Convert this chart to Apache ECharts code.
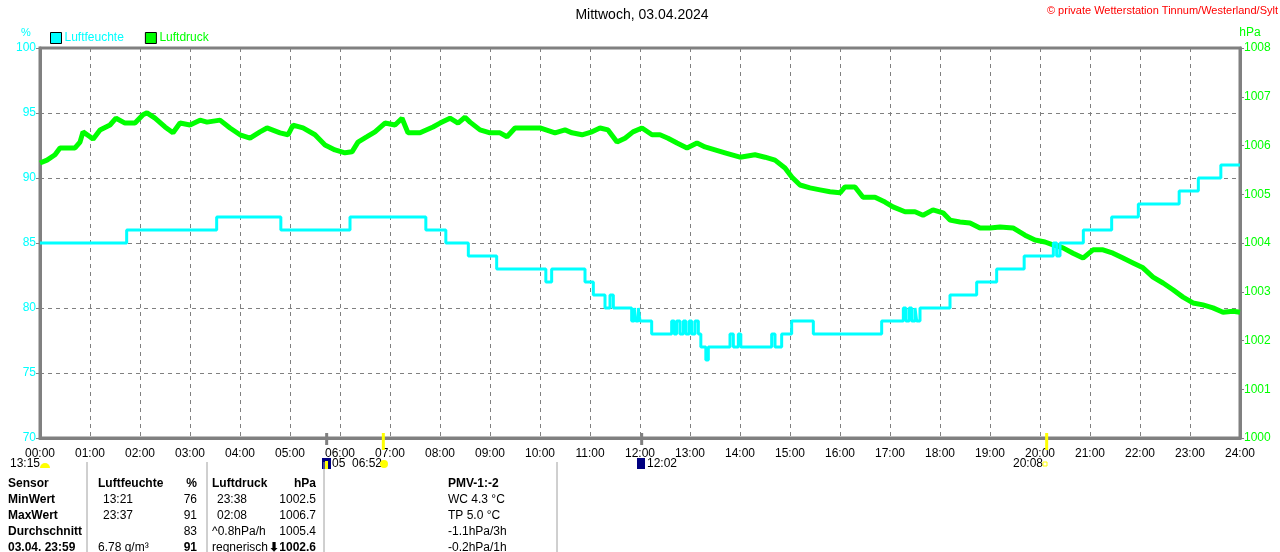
<!DOCTYPE html>
<html>
<head>
<meta charset="utf-8">
<title>Mittwoch, 03.04.2024</title>
<script src="https://cdn.jsdelivr.net/npm/echarts@6/dist/echarts.min.js"></script>
<style>
html, body { margin: 0; padding: 0; background: #fff; }
#main { width: 1280px; height: 552px; }
</style>
</head>
<body>
<div id="main"></div>
<script>
// Luftfeuchte (%): value holds from the given time until the next one
var humTime = ['00:00','01:44','03:32','04:49','06:12','07:43','08:07','08:34','09:08','10:07','10:14','10:54','11:04','11:18','11:24','11:28',
    '11:50','11:53','11:55','11:58','12:00','12:14','12:38','12:41','12:44','12:48','12:52','12:55','12:59','13:02','13:06','13:10','13:13',
    '13:19','13:22','13:48','13:52','13:58','14:01','14:38','14:42','14:50','15:02','15:28','16:50','17:16','17:19','17:23','17:26','17:30',
    '17:32','17:36','18:12','18:44','19:08','19:41','20:16','20:20','20:24','20:52','21:26','21:58','22:47','23:10','23:37','24:00'];
var humValue = [85,86,87,86,87,86,85,84,83,82,83,82,81,80,81,80,
    79,80,79,80,79,78,79,78,79,78,79,78,79,78,79,78,77,
    76,77,78,77,78,77,78,77,78,79,78,79,80,79,80,79,80,
    79,80,81,82,83,84,85,84,85,86,87,88,89,90,91,91];

// Luftdruck (hPa), time in hours
var presTime = [0.00,0.14,0.30,0.40,0.70,0.80,0.86,1.00,1.06,1.20,1.40,1.52,1.70,1.90,2.06,2.14,2.30,2.50,2.66,2.80,
    3.00,3.20,3.34,3.60,3.80,4.00,4.20,4.40,4.54,4.80,4.96,5.06,5.26,5.50,5.70,5.90,6.10,6.24,6.36,6.54,
    6.70,6.90,7.10,7.24,7.36,7.60,7.86,8.00,8.20,8.36,8.50,8.60,8.80,9.00,9.20,9.34,9.50,9.80,10.00,10.30,
    10.50,10.64,10.84,11.04,11.20,11.36,11.54,11.70,11.86,12.04,12.24,12.40,12.56,12.74,12.94,13.14,13.30,13.50,13.70,14.00,
    14.30,14.50,14.70,14.90,15.04,15.20,15.40,15.60,15.80,16.00,16.10,16.30,16.46,16.70,16.90,17.06,17.30,17.50,17.66,17.86,
    18.06,18.20,18.40,18.60,18.80,19.00,19.20,19.46,19.70,19.90,20.10,20.26,20.46,20.66,20.86,21.06,21.26,21.46,21.66,21.86,
    22.06,22.26,22.46,22.66,22.86,23.06,23.26,23.46,23.66,23.86,24.00];
var presValue = [1005.64,1005.70,1005.81,1005.95,1005.95,1006.07,1006.28,1006.18,1006.13,1006.32,1006.42,1006.56,1006.46,1006.46,1006.63,1006.67,1006.56,1006.38,1006.26,1006.46,
    1006.42,1006.52,1006.48,1006.52,1006.36,1006.22,1006.15,1006.28,1006.36,1006.26,1006.22,1006.42,1006.36,1006.22,1006.01,1005.91,1005.85,1005.87,1006.07,1006.18,
    1006.28,1006.46,1006.42,1006.56,1006.26,1006.26,1006.38,1006.46,1006.56,1006.46,1006.58,1006.48,1006.32,1006.26,1006.26,1006.18,1006.36,1006.36,1006.36,1006.26,
    1006.32,1006.26,1006.22,1006.28,1006.36,1006.32,1006.07,1006.15,1006.28,1006.36,1006.22,1006.22,1006.15,1006.05,1005.95,1006.05,1005.97,1005.91,1005.85,1005.76,
    1005.81,1005.76,1005.70,1005.54,1005.35,1005.19,1005.13,1005.09,1005.05,1005.03,1005.15,1005.15,1004.94,1004.94,1004.84,1004.74,1004.64,1004.64,1004.57,1004.68,
    1004.62,1004.47,1004.43,1004.41,1004.31,1004.31,1004.33,1004.31,1004.16,1004.06,1004.02,1003.96,1003.90,1003.79,1003.69,1003.86,1003.86,1003.79,1003.69,1003.59,
    1003.49,1003.30,1003.18,1003.04,1002.89,1002.77,1002.73,1002.67,1002.58,1002.60,1002.58];

// events under the time axis
var eventTime = ['05:44','06:52','12:02','20:08'];
var eventColor = ['#808080','#ffff00','#808080','#ffff00'];

// summary table
var tableRows = [
    ['Sensor','Luftfeuchte','%','Luftdruck','hPa','PMV-1:-2'],
    ['MinWert','13:21','76','23:38','1002.5','WC 4.3 °C'],
    ['MaxWert','23:37','91','02:08','1006.7','TP 5.0 °C'],
    ['Durchschnitt','','83','^0.8hPa/h','1005.4','-1.1hPa/3h'],
    ['03.04. 23:59','6.78 g/m³','91','regnerisch','⬇1002.6','-0.2hPa/1h']
];

function toHours(s) {
    var p = s.split(':');
    return +p[0] + (+p[1]) / 60;
}

var FONT = '"Liberation Sans", Arial, sans-serif';
var humData = humTime.map(function (t, i) { return [toHours(t), humValue[i]]; });
var presData = presTime.map(function (t, i) { return [t, presValue[i]]; });

var dom = document.getElementById('main');
var myChart = echarts.init(dom);

var option = {
    backgroundColor: '#fff',
    animation: false,
    textStyle: { fontFamily: FONT },
    legend: {
        left: 50, top: 32, padding: 0,
        icon: 'rect', itemWidth: 11, itemHeight: 11, itemGap: 21,
        itemStyle: { borderColor: '#000', borderWidth: 1 },
        textStyle: { fontSize: 12, fontFamily: FONT, padding: [0, 0, 0, -2] },
        data: [
            { name: 'Luftfeuchte', textStyle: { color: '#00ffff' } },
            { name: 'Luftdruck', textStyle: { color: '#00ff00' } }
        ]
    },
    grid: {
        left: 40, right: 40, top: 48, bottom: 114,
        show: true, borderColor: '#808080', borderWidth: 3
    },
    xAxis: {
        type: 'value', min: 0, max: 24, interval: 1,
        axisLine: { lineStyle: { color: '#808080', width: 3 } },
        axisTick: { show: false },
        axisLabel: {
            color: '#000', fontSize: 12, margin: 10, fontFamily: FONT,
            formatter: function (v) { return (v < 10 ? '0' : '') + v + ':00'; }
        },
        splitLine: { show: true, lineStyle: { color: '#808080', type: [4, 4], width: 1 } }
    },
    yAxis: [
        {
            type: 'value', min: 70, max: 100, interval: 5, position: 'left',
            axisLine: { show: true, lineStyle: { color: '#808080', width: 3 } },
            axisTick: { show: true, length: 4, lineStyle: { color: '#808080' } },
            axisLabel: { color: '#00ffff', fontSize: 12, margin: 4, fontFamily: FONT },
            splitLine: { show: true, lineStyle: { color: '#808080', type: [4, 4], width: 1 } }
        },
        {
            type: 'value', min: 1000, max: 1008, interval: 1, position: 'right',
            axisLine: { show: true, lineStyle: { color: '#808080', width: 3 } },
            axisTick: { show: true, length: 4, lineStyle: { color: '#808080' } },
            axisLabel: {
                color: '#00ff00', fontSize: 12, margin: 4, fontFamily: FONT,
                formatter: function (v) { return String(v); }
            },
            splitLine: { show: false }
        }
    ],
    series: [
        {
            name: 'Luftdruck', type: 'line', yAxisIndex: 1,
            showSymbol: false, color: '#00ff00', z: 2,
            lineStyle: { color: '#00ff00', width: 5 },
            data: presData
        },
        {
            name: 'Luftfeuchte', type: 'line', yAxisIndex: 0, step: 'end',
            showSymbol: false, color: '#00ffff', z: 3,
            lineStyle: { color: '#00ffff', width: 3 },
            data: humData
        }
    ]
};
myChart.setOption(option, true);

// texts, event marks and table
var g = [];
function txt(x, y, s, opt) {
    opt = opt || {};
    g.push({
        type: 'text', x: x, y: y, silent: true,
        style: {
            text: s, fill: opt.color || '#000', fontSize: opt.size || 12,
            fontWeight: opt.bold ? 'bold' : 'normal', fontFamily: FONT,
            textAlign: opt.align || 'left', textVerticalAlign: 'middle'
        }
    });
}
txt(642, 15, 'Mittwoch, 03.04.2024', { size: 14, align: 'center' });
txt(1278, 11, '© private Wetterstation Tinnum/Westerland/Sylt', { size: 11, color: '#ff0000', align: 'right' });
txt(26, 33, '%', { color: '#00ffff', align: 'center', size: 11 });
txt(1250, 33, 'hPa', { color: '#00ff00', align: 'center', size: 12 });

// event ticks on the time axis
var axisY = 438;
eventTime.forEach(function (t, i) {
    var px = myChart.convertToPixel({ xAxisIndex: 0 }, toHours(t));
    g.push({
        type: 'line', silent: true, z: 10,
        shape: { x1: px, y1: axisY - 5, x2: px, y2: axisY + (i % 2 ? 12 : 7) },
        style: { stroke: eventColor[i], lineWidth: 3 }
    });
});
// labels under the axis
txt(10, 464, '13:15');
g.push({ type: 'sector', silent: true, shape: { cx: 45, cy: 468, r0: 0, r: 5, startAngle: Math.PI, endAngle: 2 * Math.PI }, style: { fill: '#ffff00' } });
g.push({ type: 'rect', silent: true, shape: { x: 322, y: 458, width: 9, height: 11 }, style: { fill: '#000080' } });
g.push({ type: 'rect', silent: true, shape: { x: 325, y: 461, width: 3, height: 8 }, style: { fill: '#ffff00' } });
txt(332, 464, '05  06:52');
g.push({ type: 'circle', silent: true, shape: { cx: 384, cy: 464, r: 4 }, style: { fill: '#ffff00' } });
g.push({ type: 'rect', silent: true, shape: { x: 637, y: 458, width: 8, height: 11 }, style: { fill: '#000080' } });
txt(647, 464, '12:02');
txt(1013, 464, '20:08');
g.push({ type: 'rect', silent: true, shape: { x: 1043, y: 462, width: 4, height: 4 }, style: { fill: 'none', stroke: '#ffff00', lineWidth: 1 } });

// table separators
[87, 207, 324, 557].forEach(function (x) {
    g.push({ type: 'line', silent: true, shape: { x1: x, y1: 462, x2: x, y2: 552 }, style: { stroke: '#a0a0a0', lineWidth: 1 } });
});
// table text
var colX = [8, 98, 197, 212, 316, 448];
var colAlign = ['left', 'left', 'right', 'left', 'right', 'left'];
tableRows.forEach(function (row, r) {
    var y = 484 + r * 16;
    row.forEach(function (cell, c) {
        var bold = r === 0 || c === 0 || (r === 4 && (c === 2 || c === 4));
        var x = colX[c];
        if (r > 0 && (c === 1 || c === 3) && /^\d\d:\d\d$/.test(cell)) x += 5;
        txt(x, y, cell, { bold: bold, align: colAlign[c] });
    });
});

myChart.setOption({ graphic: g });
</script>
</body>
</html>
